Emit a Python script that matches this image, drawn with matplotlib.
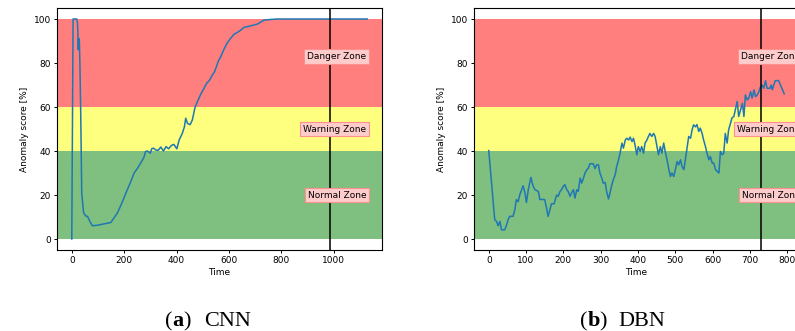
import matplotlib
matplotlib.use('Agg')
import matplotlib.pyplot as plt

# CNN anomaly score
cnn_t = [0, 3, 5, 8, 12, 19, 22, 24, 25, 26, 27, 28, 29, 31, 34, 38, 45, 53, 60, 70, 79,
         100, 120, 149, 174, 190, 212, 225, 238, 250, 263, 275, 282, 289, 300, 305, 312,
         320, 330, 340, 350, 360, 370, 380, 390, 401, 410, 422, 430, 435, 442, 452, 460,
         471, 480, 493, 505, 515, 525, 537, 545, 550, 560, 569, 580, 594, 605, 619, 640,
         658, 680, 709, 734, 760, 785, 850, 1000, 1128]
cnn_score = [0, 60, 100, 100, 100, 100, 98, 91, 86, 91, 87, 91, 90, 80, 58.7, 21, 12, 10.5,
             10.3, 7.8, 6.0, 6.3, 6.8, 7.5, 11.8, 16, 22.4, 26, 30, 32, 34.5, 37, 39.8, 40,
             39, 41, 41.3, 40.5, 40.3, 41.8, 40, 42, 41, 42.5, 43, 41, 45, 48, 51, 54.9,
             52.5, 52, 54, 60, 62.5, 66, 68.5, 70.8, 72, 74.6, 76, 77.6, 81, 82.9, 86, 89.2,
             91, 93, 94.5, 96.2, 96.8, 97.7, 99.5, 99.8, 100, 100, 100, 100]

# DBN anomaly score
dbn_t = [0, 16, 21, 25, 30, 34, 43, 48, 52, 56, 65, 70, 74, 79, 83, 88, 92, 97, 101, 106,
         113, 119, 124, 133, 137, 142, 150, 155, 159, 164, 168, 175, 182, 186, 191, 195,
         200, 204, 209, 213, 218, 222, 227, 231, 236, 240, 245, 249, 254, 258, 263, 267,
         271, 280, 285, 289, 294, 298, 303, 307, 312, 316, 321, 325, 330, 334, 339, 343,
         348, 352, 357, 361, 366, 370, 375, 379, 384, 388, 392, 397, 401, 406, 410, 415,
         419, 424, 428, 432, 437, 442, 446, 451, 455, 460, 464, 469, 473, 478, 482, 487,
         491, 496, 500, 505, 509, 514, 518, 523, 527, 532, 536, 541, 545, 549, 554, 558,
         563, 567, 572, 576, 581, 585, 590, 594, 599, 603, 608, 617, 621, 626, 630, 634,
         639, 643, 648, 652, 657, 661, 666, 670, 675, 680, 684, 688, 693, 697, 702, 706,
         711, 715, 720, 724, 728, 733, 737, 742, 746, 754, 757, 760, 764, 768, 777, 782,
         786, 792]
dbn_score = [40.2, 8.8, 8, 6, 8, 4.2, 4.2, 6.5, 8.8, 10.3, 10.3, 13.3, 17.9, 17, 20, 22.4,
             24.2, 21, 16.6, 22.4, 28, 24, 22.4, 21.6, 17.9, 18, 17.9, 14, 10.3, 13.3, 16,
             16, 20, 19.4, 21.6, 22.4, 24, 24.7, 22.4, 21.6, 19.4, 21, 22.4, 18.6, 22.4,
             21.6, 27.7, 25.4, 27.7, 30, 31.5, 32.2, 34.2, 34.2, 32, 33.7, 33.7, 30, 27.7,
             25.4, 25.7, 21.6, 18.2, 20.9, 24.7, 27, 29.2, 33, 36, 39, 43.6, 41.3, 45, 45.8,
             45, 46.3, 44.3, 45.8, 42.8, 38.3, 42, 39.8, 42, 39, 43.6, 45, 46.6, 48, 46.6,
             48, 46.6, 42, 38.3, 42, 39, 43.6, 39.8, 36, 32.2, 28.4, 30, 28.4, 31.5, 35.2,
             33.7, 36, 33, 31.5, 36, 42, 46.6, 45.8, 49.6, 51.9, 51, 52, 48.9, 50.4, 48, 45,
             42, 39, 36, 37.5, 34.5, 34.5, 31.5, 30, 39.8, 38.3, 39, 48, 43.6, 49.6, 52.6,
             55, 55.7, 58.7, 62.5, 55.7, 58.7, 61.7, 55.7, 65.5, 63.2, 64, 67, 64, 67.8,
             64.7, 65.5, 67, 69, 70, 68.5, 72, 68.5, 68.5, 70, 67.8, 70, 72, 72, 70, 68.5, 66]

zones = [(0, 40, 'green'), (40, 60, 'yellow'), (60, 100, 'red')]
zone_labels = [('Danger Zone', 83), ('Warning Zone', 50), ('Normal Zone', 20)]

panels = [
    (cnn_t, cnn_score, 985, 1124, [0, 200, 400, 600, 800, 1000]),
    (dbn_t, dbn_score, 731, 835, [0, 100, 200, 300, 400, 500, 600, 700, 800]),
]

plt.rcParams['font.size'] = 6.5
plt.rcParams['axes.linewidth'] = 0.8

fig = plt.figure(figsize=(7.95, 3.31), dpi=100)
rects = [[0.0717, 0.2447, 0.4088, 0.7311], [0.5962, 0.2447, 0.4088, 0.7311]]

for rect, (t, s, vline, label_x, ticks) in zip(rects, panels):
    ax = fig.add_axes(rect)
    for lo, hi, c in zones:
        ax.axhspan(lo, hi, color=c, alpha=0.5, lw=0)
    ax.plot(t, s, color='#1f77b4', lw=1.1)
    ax.axvline(vline, color='black', lw=1.1)
    for txt, y in zone_labels:
        ax.text(label_x, y, txt, ha='right', va='center', fontsize=6.5, zorder=5,
                bbox=dict(facecolor='#ffcccc', edgecolor='#ff9090', pad=2, lw=0.8))
    ax.set_xticks(ticks)
    ax.set_yticks([0, 20, 40, 60, 80, 100])
    ax.set_ylim(-5, 105)
    ax.margins(x=0.05)
    ax.tick_params(length=2.5, width=0.7, pad=2)
    ax.set_xlabel('Time', labelpad=2)
    ax.set_ylabel('Anomaly score [%]', labelpad=3)

# sub-captions: "(a)" with bold letter, then the model name
cap_y = 0.015
cap_kw = dict(family='Liberation Serif', fontsize=16, va='baseline', ha='left')


def caption(x0, x_name, letter, name):
    fig.canvas.draw()
    r = fig.canvas.get_renderer()
    x = x0
    for piece, weight in [('(', 'normal'), (letter, 'bold'), (')', 'normal')]:
        t = fig.text(x, cap_y, piece, fontweight=weight, **cap_kw)
        x = t.get_window_extent(r).x1 / fig.bbox.width
    fig.text(x_name, cap_y, name, **cap_kw)


caption(165 / 795, 204 / 795, 'a', 'CNN')
caption(580 / 795, 618 / 795, 'b', 'DBN')

fig.savefig('out.png', dpi=100)
